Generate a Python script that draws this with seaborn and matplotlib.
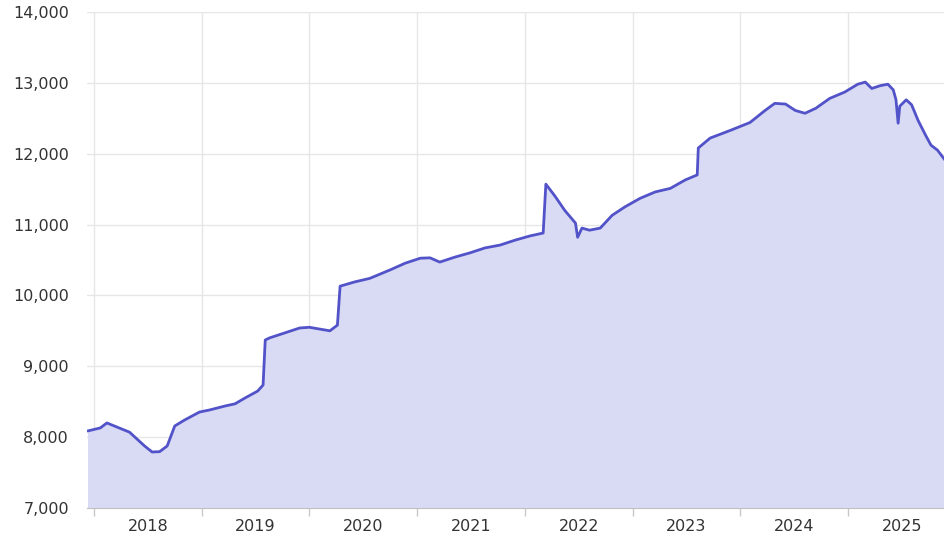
import pandas as pd
import matplotlib
matplotlib.use("Agg")
import matplotlib.pyplot as plt
import seaborn as sns
from matplotlib.ticker import FixedLocator, FuncFormatter

sns.set_style("white")

# decimal years and index values
years = [2017.94, 2018.06, 2018.12, 2018.33, 2018.47, 2018.54, 2018.61, 2018.68, 2018.75,
         2018.84, 2018.98, 2019.07, 2019.22, 2019.31, 2019.40, 2019.52, 2019.57, 2019.59,
         2019.63, 2019.77, 2019.91, 2020.0, 2020.19, 2020.26, 2020.285, 2020.42, 2020.56,
         2020.75, 2020.89, 2021.03, 2021.12, 2021.21, 2021.35, 2021.49, 2021.63, 2021.77,
         2021.91, 2022.05, 2022.17, 2022.195, 2022.28, 2022.37, 2022.47, 2022.49, 2022.53,
         2022.60, 2022.70, 2022.81, 2022.93, 2023.07, 2023.21, 2023.35, 2023.49, 2023.60,
         2023.61, 2023.72, 2023.91, 2024.09, 2024.23, 2024.32, 2024.42, 2024.51, 2024.60,
         2024.70, 2024.83, 2024.97, 2025.09, 2025.16, 2025.22, 2025.30, 2025.37, 2025.42,
         2025.445, 2025.465, 2025.48, 2025.54, 2025.59, 2025.65, 2025.72, 2025.77, 2025.83,
         2025.90]
values = [8086, 8130, 8200, 8070, 7875, 7790, 7795, 7875, 8157,
          8240, 8354, 8382, 8440, 8470, 8550, 8650, 8735, 9370,
          9400, 9470, 9540, 9550, 9500, 9580, 10130, 10190, 10240,
          10360, 10455, 10525, 10530, 10470, 10540, 10600, 10670, 10710,
          10780, 10840, 10880, 11570, 11400, 11200, 11020, 10820, 10950,
          10920, 10950, 11130, 11250, 11370, 11460, 11510, 11630, 11700,
          12080, 12220, 12330, 12440, 12610, 12710, 12700, 12610, 12570,
          12640, 12780, 12870, 12980, 13010, 12920, 12960, 12980, 12900,
          12760, 12430, 12670, 12760, 12690, 12470, 12260, 12120, 12050,
          11910]

year_labels = [2018, 2019, 2020, 2021, 2022, 2023, 2024, 2025]

df = pd.DataFrame({"year": years, "value": values})

line_color = "#5252c9"
fill_color = "#d9daf4"

fig = plt.figure(figsize=(9.45, 5.43), dpi=100)
ax = fig.add_axes([0.092, 0.0645, 0.908, 0.9135])

ax.fill_between(df["year"], df["value"], 7000, color=fill_color, linewidth=0, zorder=1)
sns.lineplot(data=df, x="year", y="value", ax=ax, color=line_color, linewidth=2, zorder=3)

ax.set_xlim(2017.935, 2025.90)
ax.set_ylim(7000, 14000)

ax.yaxis.set_major_locator(FixedLocator(range(7000, 14001, 1000)))
ax.yaxis.set_major_formatter(FuncFormatter(lambda v, p: f"{int(v):,}"))

ax.xaxis.set_major_locator(FixedLocator(year_labels))
ax.xaxis.set_major_formatter(FuncFormatter(lambda v, p: ""))
ax.xaxis.set_minor_locator(FixedLocator([y + 0.5 for y in year_labels]))
ax.xaxis.set_minor_formatter(FuncFormatter(lambda v, p: str(int(v))))

ax.grid(True, which="major", color="#e6e6e6", linewidth=1, zorder=0)
ax.set_axisbelow(True)

ax.tick_params(axis="x", which="major", length=6, color="#c8c8c8", bottom=True, width=1)
ax.tick_params(axis="x", which="minor", length=0, labelsize=11.5, labelcolor="#333333", pad=8)
ax.tick_params(axis="y", length=0, labelsize=11.5, labelcolor="#333333", pad=13)

for side in ["top", "right", "left"]:
    ax.spines[side].set_visible(False)
ax.spines["bottom"].set_color("#c0c0c0")

ax.set_xlabel("")
ax.set_ylabel("")

fig.savefig("out.png", dpi=100)
